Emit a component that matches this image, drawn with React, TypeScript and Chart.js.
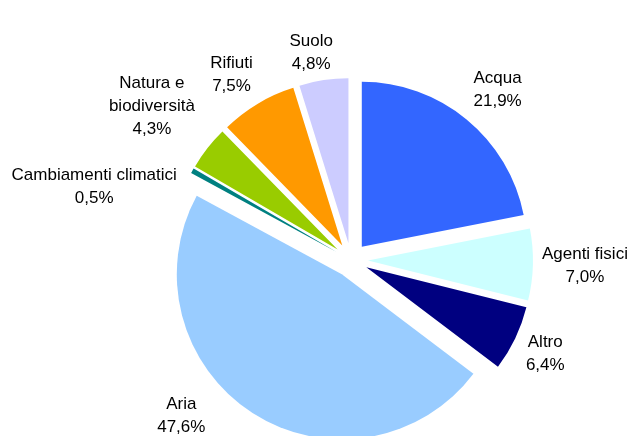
import React, { useEffect, useRef } from 'react';
import { Chart, registerables } from 'chart.js';

Chart.register(...registerables);

const categories = [
  'Acqua',
  'Agenti fisici',
  'Altro',
  'Aria',
  'Cambiamenti climatici',
  'Natura e\nbiodiversità',
  'Rifiuti',
  'Suolo',
];
const values = [21.9, 7.0, 6.4, 47.6, 0.5, 4.3, 7.5, 4.8];
const colors = ['#3366FF', '#CCFFFF', '#000080', '#99CCFF', '#008080', '#99CC00', '#FF9900', '#CCCCFF'];

// style: how far each slice is pulled out, and label placement tweaks
const EXPLODE = 17;
const LABEL_GAP = 30;
const labelNudges: number[][] = [
  [12, -6],
  [22, 0],
  [3, 2],
  [-55, -22],
  [-72, 31],
  [-32, -23],
  [-11, -3],
  [-8, 2],
];
const FONT = '17px "Liberation Sans", Arial, sans-serif';
const LINE_H = 23;

const explodePlugin = {
  id: 'explode',
  afterDatasetUpdate(chart: any, args: any) {
    const meta = chart.getDatasetMeta(args.index);
    meta.data.forEach((arc: any) => {
      const mid = (arc.startAngle + arc.endAngle) / 2;
      arc.x += Math.cos(mid) * EXPLODE;
      arc.y += Math.sin(mid) * EXPLODE;
    });
  },
};

const labelPlugin = {
  id: 'outLabels',
  afterDatasetsDraw(chart: any) {
    const ctx = chart.ctx;
    const meta = chart.getDatasetMeta(0);
    ctx.save();
    ctx.font = FONT;
    ctx.fillStyle = '#000000';
    ctx.textAlign = 'center';
    ctx.textBaseline = 'middle';
    meta.data.forEach((arc: any, i: number) => {
      const mid = (arc.startAngle + arc.endAngle) / 2;
      const d = arc.outerRadius + LABEL_GAP;
      const cx = arc.x + Math.cos(mid) * d + labelNudges[i][0];
      const cy = arc.y + Math.sin(mid) * d + labelNudges[i][1];
      const lines = categories[i].split('\n');
      lines.push(values[i].toFixed(1).replace('.', ',') + '%');
      const top = cy - ((lines.length - 1) * LINE_H) / 2;
      lines.forEach((ln, k) => ctx.fillText(ln, cx, top + k * LINE_H));
    });
    ctx.restore();
  },
};

export default function App() {
  const ref = useRef<HTMLCanvasElement | null>(null);
  useEffect(() => {
    if (!ref.current) return;
    const chart = new Chart(ref.current, {
      type: 'pie',
      data: {
        labels: categories,
        datasets: [
          {
            data: values,
            backgroundColor: colors,
            borderWidth: 0,
            radius: 165,
          } as any,
        ],
      },
      options: {
        responsive: false,
        animation: false,
        devicePixelRatio: 1,
        layout: { padding: { left: 70, top: 84, right: 0, bottom: 0 } },
        plugins: {
          legend: { display: false },
          tooltip: { enabled: false },
        },
      } as any,
      plugins: [explodePlugin, labelPlugin],
    });
    return () => chart.destroy();
  }, []);
  return (
    <div style={{ position: 'fixed', left: 0, top: 0, width: 632, height: 436, background: '#ffffff' }}>
      <canvas ref={ref} width={632} height={436} style={{ display: 'block' }} />
    </div>
  );
}
